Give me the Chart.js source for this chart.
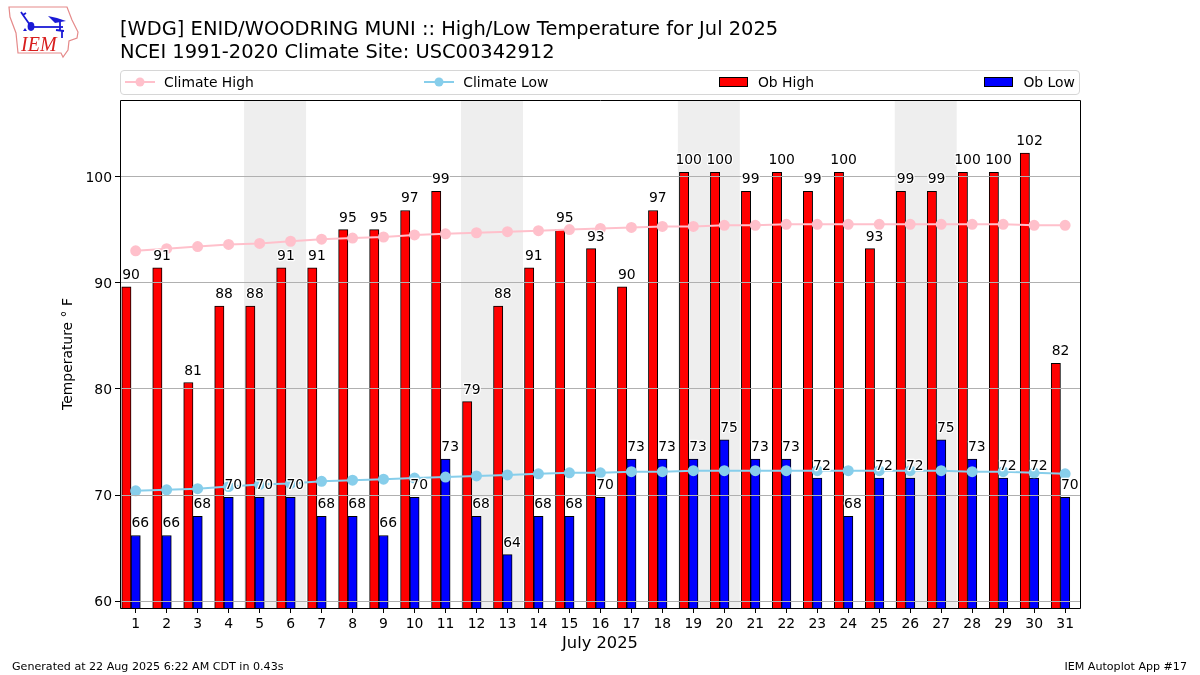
<!DOCTYPE html>
<html>
<head>
<meta charset="utf-8">
<title>WDG High/Low Temperature Jul 2025</title>
<script src="https://cdn.jsdelivr.net/npm/chart.js@4"></script>
<style>
  html, body { margin: 0; padding: 0; background: #fff; }
  body { width: 1200px; height: 675px; position: relative; overflow: hidden; font-family: "DejaVu Sans", sans-serif; color: #000; }
  canvas { position: absolute; left: 0; top: 0; }
  #logo { position: absolute; left: 8px; top: 5px; }
  #titulo { position: absolute; left: 120px; top: 18px; font-size: 19.45px; line-height: 22.5px; white-space: nowrap; }
  #leyenda { position: absolute; left: 120px; top: 70px; width: 950px; height: 21px; padding: 0 4px 2px; border: 1px solid #d6d6d6; border-radius: 4px;
    display: flex; justify-content: space-between; align-items: center; font-size: 13.9px; }
  .item { display: flex; align-items: center; white-space: nowrap; }
  .item svg { margin-right: 9px; display: block; }
  .pie { position: absolute; top: 660px; font-size: 11.1px; white-space: nowrap; }
</style>
</head>
<body>
<canvas id="grafico" width="1200" height="675"></canvas>

<svg id="logo" width="74" height="56" viewBox="0 0 74 56">
  <path d="M1 2 L59 2 L64 15 L70 27 L69 33 L61 36 L60 45 L55 52 L53 48 L10 48 L8 28 L2 12 Z" fill="none" stroke="#e58a8a" stroke-width="1.2"/>
  <g stroke="#1a1ad6" stroke-width="1.8" fill="none">
    <path d="M23 22 L55 22"/>
    <path d="M22 20 L15 10 M15 10 L13 7 M15 10 L18 8"/>
    <path d="M52 17 L52 26 M48 25 L56 26 M54 26 L54 33"/>
  </g>
  <ellipse cx="23" cy="21.5" rx="3.4" ry="4.4" fill="#1a1ad6"/>
  <path d="M40 11 L49 13 L58 16 L47 18 Z" fill="#1a1ad6"/>
  <path d="M17 23 L19 26 L15 26 Z" fill="#1a1ad6"/>
  <text x="13" y="46" font-family="Liberation Serif" font-style="italic" font-size="20" fill="#d81e1e">IEM</text>
</svg>

<div id="titulo">[WDG] ENID/WOODRING MUNI :: High/Low Temperature for Jul 2025<br>NCEI 1991-2020 Climate Site: USC00342912</div>

<div id="leyenda">
  <div class="item"><svg width="30" height="12"><line x1="0" y1="6" x2="30" y2="6" stroke="#ffc0cb" stroke-width="2"/><circle cx="15" cy="6" r="4.5" fill="#ffc0cb"/></svg>Climate High</div>
  <div class="item"><svg width="30" height="12"><line x1="0" y1="6" x2="30" y2="6" stroke="#87ceeb" stroke-width="2"/><circle cx="15" cy="6" r="4.5" fill="#87ceeb"/></svg>Climate Low</div>
  <div class="item"><svg width="30" height="12"><rect x="0.5" y="1.5" width="28" height="9" fill="#ff0000" stroke="#000"/></svg>Ob High</div>
  <div class="item"><svg width="30" height="12"><rect x="0.5" y="1.5" width="28" height="9" fill="#0000ff" stroke="#000"/></svg>Ob Low</div>
</div>

<div class="pie" style="left:12px">Generated at 22 Aug 2025 6:22 AM CDT in 0.43s</div>
<div class="pie" style="right:13px">IEM Autoplot App #17</div>

<script>
const dias = [1,2,3,4,5,6,7,8,9,10,11,12,13,14,15,16,17,18,19,20,21,22,23,24,25,26,27,28,29,30,31];
const obHigh = [89.6,91.4,80.6,87.8,87.8,91.4,91.4,95,95,96.8,98.6,78.8,87.8,91.4,95,93.2,89.6,96.8,100.4,100.4,98.6,100.4,98.6,100.4,93.2,98.6,98.6,100.4,100.4,102.2,82.4];
const obLow = [66.2,66.2,68,69.8,69.8,69.8,68,68,66.2,69.8,73.4,68,64.4,68,68,69.8,73.4,73.4,73.4,75.2,73.4,73.4,71.6,68,71.6,71.6,75.2,73.4,71.6,71.6,69.8];
const climaHigh = [93.0,93.2,93.4,93.6,93.7,93.9,94.1,94.2,94.3,94.5,94.6,94.7,94.8,94.9,95.0,95.1,95.2,95.3,95.3,95.4,95.4,95.5,95.5,95.5,95.5,95.5,95.5,95.5,95.5,95.4,95.4];
const climaLow = [70.4,70.5,70.6,70.8,71.0,71.1,71.3,71.4,71.5,71.6,71.7,71.8,71.9,72.0,72.1,72.1,72.2,72.2,72.3,72.3,72.3,72.3,72.3,72.3,72.3,72.3,72.3,72.2,72.2,72.1,72.0];
const finesDeSemana = [5,12,19,26];
const ticksY = [60,70,80,90,100];

// barras: la baja centrada en el dia y la alta a su izquierda
function puntos(valores, desplazamiento) {
    return valores.map((v, i) => ({x: dias[i] + desplazamiento, y: v}));
}

//Franjas de fin de semana
const franjas = {
    id: 'franjas',
    beforeDatasetsDraw(chart) {
        const {ctx, chartArea, scales} = chart;
        ctx.save();
        ctx.fillStyle = '#eeeeee';
        finesDeSemana.forEach(d => {
            const x1 = scales.x.getPixelForValue(d - 0.5);
            const x2 = scales.x.getPixelForValue(d + 1.5);
            ctx.fillRect(x1, chartArea.top, x2 - x1, chartArea.height);
        });
        ctx.restore();
    }
};

//Etiquetas de valor y marco
const etiquetas = {
    id: 'etiquetas',
    afterDraw(chart) {
        const {ctx, chartArea, scales} = chart;
        ctx.save();
        ctx.font = '13.9px "DejaVu Sans"';
        ctx.textAlign = 'center';
        ctx.textBaseline = 'alphabetic';
        ctx.lineJoin = 'round';
        const poner = (valores, desplazamiento) => {
            valores.forEach((v, i) => {
                const x = scales.x.getPixelForValue(dias[i] + desplazamiento);
                const y = scales.y.getPixelForValue(v) - 8;
                const texto = String(Math.round(v));
                ctx.strokeStyle = '#ffffff';
                ctx.lineWidth = 2.5;
                ctx.strokeText(texto, x, y);
                ctx.fillStyle = '#000000';
                ctx.fillText(texto, x, y);
            });
        };
        poner(obHigh, -0.15);
        poner(obLow, 0.15);
        ctx.strokeStyle = '#000000';
        ctx.lineWidth = 1;
        ctx.strokeRect(Math.round(chartArea.left) + 0.5, Math.round(chartArea.top) + 0.5,
            Math.round(chartArea.width), Math.round(chartArea.height));
        ctx.restore();
    }
};

new Chart(document.getElementById('grafico'), {
    type: 'bar',
    data: {
        datasets: [
            {type: 'line', label: 'Climate High', data: puntos(climaHigh, 0), borderColor: '#ffc0cb', backgroundColor: '#ffc0cb',
                borderWidth: 2, pointRadius: 4.5, pointHoverRadius: 4.5, order: 1},
            {type: 'line', label: 'Climate Low', data: puntos(climaLow, 0), borderColor: '#87ceeb', backgroundColor: '#87ceeb',
                borderWidth: 2, pointRadius: 4.5, pointHoverRadius: 4.5, order: 0},
            {label: 'Ob High', data: puntos(obHigh, -0.3), backgroundColor: '#ff0000', borderColor: '#000000', borderWidth: 1, order: 3},
            {label: 'Ob Low', data: puntos(obLow, 0), backgroundColor: '#0000ff', borderColor: '#000000', borderWidth: 1, order: 2}
        ]
    },
    options: {
        responsive: false,
        animation: false,
        parsing: {xAxisKey: 'x', yAxisKey: 'y'},
        grouped: false,
        barPercentage: 1,
        categoryPercentage: 1,
        layout: {padding: {left: 60, right: 120, top: 100, bottom: 21}},
        plugins: {legend: {display: false}, title: {display: false}, tooltip: {enabled: false}},
        scales: {
            x: {
                type: 'linear',
                offset: false,
                min: 0.494,
                max: 31.48,
                afterFit(scale) { scale.height = 46; },
                afterBuildTicks(scale) { scale.ticks = dias.map(d => ({value: d})); },
                grid: {offset: false, drawOnChartArea: false, tickColor: '#000000', tickLength: 5},
                border: {display: false},
                ticks: {color: '#000000', font: {size: 13.9, family: 'DejaVu Sans'}, padding: 3, autoSkip: false, maxRotation: 0,
                    callback: v => String(v)},
                title: {display: true, text: 'July 2025', color: '#000000', font: {size: 16.3, family: 'DejaVu Sans'}, padding: {top: 2, bottom: 0}}
            },
            y: {
                min: 59.37,
                max: 107.2,
                afterFit(scale) { scale.width = 60; },
                afterBuildTicks(scale) { scale.ticks = ticksY.map(v => ({value: v})); },
                grid: {color: '#b0b0b0', lineWidth: 1, tickColor: '#000000', tickLength: 5, z: 1},
                border: {display: false},
                ticks: {color: '#000000', font: {size: 13.9, family: 'DejaVu Sans'}, padding: 3, labelOffset: 1.5, callback: v => String(v)},
                title: {display: true, text: 'Temperature \u00B0 F', color: '#000000', font: {size: 13.9, family: 'DejaVu Sans'}, padding: 0}
            }
        }
    },
    plugins: [franjas, etiquetas]
});
</script>
</body>
</html>
